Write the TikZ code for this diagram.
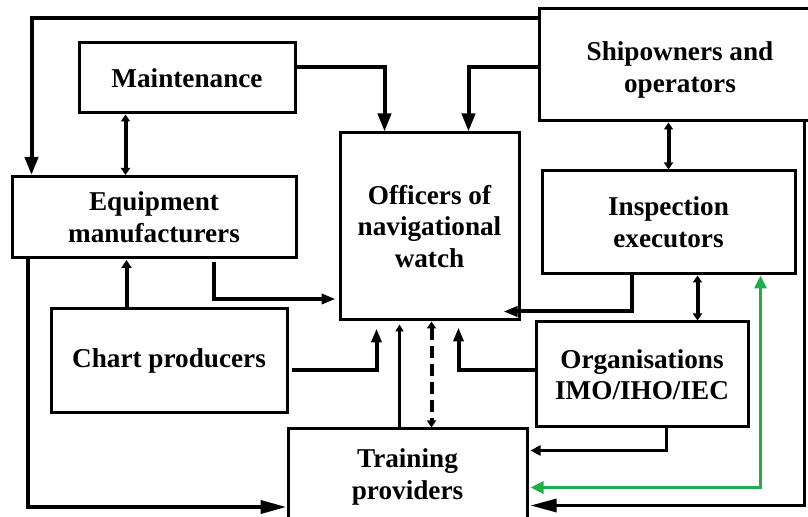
\documentclass[tikz,border=0pt]{standalone}
\usepackage{fontspec}
\setmainfont{Liberation Serif}
\usetikzlibrary{arrows.meta,calc}
\definecolor{grn}{RGB}{30,176,72}
\begin{document}
\begin{tikzpicture}[x=0.5pt,y=-0.5pt,
  txt/.style={align=center, inner sep=0pt, font=\bfseries\fontsize{13.6}{15.8}\selectfont},
  box/.style={draw, line width=1.5pt, txt},
  thk/.style={line width=2pt},
  mid/.style={line width=1.6pt},
  thn/.style={line width=1.2pt},
  tipbig/.style={-{Triangle[length=9pt,width=6.5pt]}},
  tipmed/.style={-{Triangle[length=7pt,width=5pt]}},
  tipsm/.style={-{Triangle[length=5pt,width=5pt]}},
  tiplong/.style={-{Triangle[length=13pt,width=6.5pt]}},
  dbl/.style={{Triangle[length=3.5pt,width=4.5pt]}-{Triangle[length=3.5pt,width=4.5pt]}},
]
\useasboundingbox (0,0) rectangle (808,517);
\clip (0,0) rectangle (808,517);

% boxes
\node[box, minimum width=108pt, minimum height=35pt] (maint) at (187,78) {Maintenance};
\node[box, minimum width=142pt, minimum height=40.5pt] (equip) at (154,217) {Equipment\\manufacturers};
\node[box, minimum width=118pt, minimum height=52pt] (chart) at (169,361) {Chart producers};
\node[box, minimum width=89.5pt, minimum height=93.5pt] (off) at (429.5,226.5) {Officers of\\navigational\\watch};
\node[box, minimum width=119.5pt, minimum height=48pt] (train) at (407.5,477) {Training\\providers};
\node[box, minimum width=141pt, minimum height=56pt] (ship) at (680,65) {};
\node[txt] (shiptxt) at (680,70) {Shipowners and\\operators};
\node[box, minimum width=126.5pt, minimum height=51.5pt] (insp) at (668.5,222.5) {Inspection\\executors};
\node[box, minimum width=106pt, minimum height=52.5pt] (org) at (642,374.5) {Organisations\\IMO/IHO/IEC};

% connectors
\draw[thk, tipbig] ($(ship.north west)+(0,11)$) -| ($(equip.north west)+(21,0)$);
\draw[thk, tipbig] ($(ship.north west)+(0,60)$) -| ($(off.north east)+(-52,0)$);
\draw[thk, tipbig] ($(maint.north east)+(0,26)$) -| ($(off.north west)+(46,0)$);
\draw[thk, dbl] ($(maint.south west)+(48,0)$) -- ($(equip.north west)+(115,0)$);
\draw[thk, dbl] (insp.north |- ship.south) -- (insp.north);
\draw[thk, tipmed] ($(insp.south west)+(91,0)$) |- ($(off.south east)+(-17,-10)$);
\draw[thk, dbl] ($(insp.south west)+(157,0)$) -- ($(org.north west)+(163,0)$);
\draw[thk, tipmed] ($(org.west)+(0,-4.5)$) -| ($(off.south west)+(120,6)$);
\draw[thn, tipsm] ($(org.south west)+(132,0)$) |- ($(train.north east)+(2,23)$);
\draw[mid, grn, {Triangle[length=6.5pt,width=6pt]}-{Triangle[length=6.5pt,width=6pt]}]
  ($(insp.south west)+(220,0)$) |- ($(train.north east)+(2,60)$);
\draw[mid, tiplong] ($(ship.south west)+(267,0)$) |- ($(train.north east)+(2,78)$);
\draw[thk, dash pattern=on 6pt off 3pt, dbl] ($(off.south west)+(93,0)$) -- ($(train.north west)+(145,0)$);
\draw[mid, {Triangle[length=3.5pt,width=4pt]}-] ($(off.south west)+(61,3)$) -- ($(train.north west)+(113,0)$);
\draw[thk, tipmed] ($(chart.east)+(3,9)$) -| ($(off.south west)+(38,7)$);
\draw[thk, {Triangle[length=4pt,width=5pt]}-] ($(equip.south west)+(116,1)$) -- ($(chart.north west)+(77,0)$);
\draw[thk, tipmed] ($(equip.south west)+(203,3)$) |- ($(off.west)+(-3,72.5)$);
\draw[thk, tiplong] ($(equip.south west)+(17,0)$) |- ($(train.west)+(0,30)$);
\end{tikzpicture}
\end{document}
